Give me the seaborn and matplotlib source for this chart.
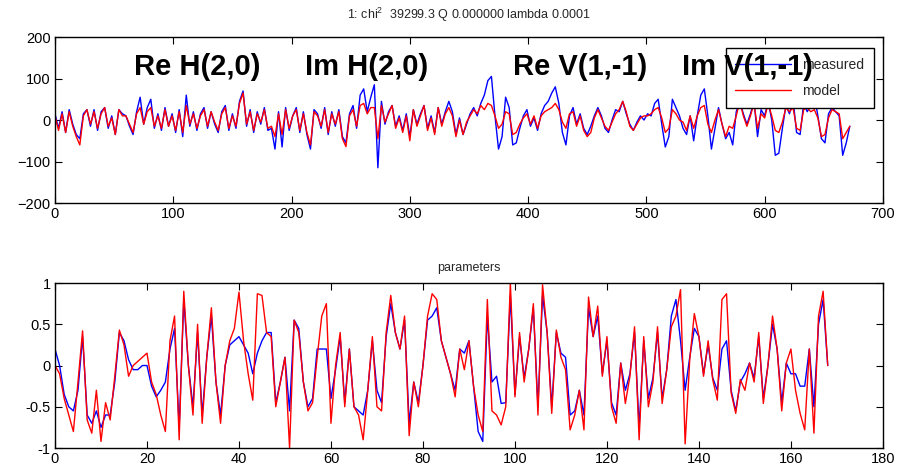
import numpy as np
import pandas as pd
import matplotlib
matplotlib.use("Agg")
import matplotlib.pyplot as plt
import seaborn as sns

# ---------------- data ----------------
top_step = 3  # sample spacing of the top trace values
top_measured = [15, -20, 20, -30, 25, -10, -35, -45, 15, 25, -15, 25, -25, 20, 30, -20, 10, -35, 25, 15,
                10, -15, -35, 20, 55, -10, 30, 50, -20, 15,
                -25, 30, -15, 15, -30, 25, -40, 60, -15, 20, -25, 15, 30, -20, 20, -10, -30, 20, 35, -25,
                15, -20, 45, 70, -15, 25, -30, 20, -10, 30,
                -25, -20, -70, 20, -65, 30, -25, 10, 30, -30, 20, -35, -70, 25, 15, -20, 30, -35, 20, -15,
                25, -40, -55, 15, 35, -20, 60, 75, 20, 55,
                85, -115, 45, -10, 20, 35, -15, 10, -25, 15, -40, 25, -10, 15, 35, -20, 10, -30, 30, -10,
                20, 45, 20, -35, 5, -35, -10, 15, 30, 10,
                40, 60, 95, 105, 10, -70, -40, 55, 30, -60,
                -55, -20, 10, 25, -15, 5, -25, 15, 35, 45, 65, 80, 40, -30, -60, 10, 30, -10, 15, -20,
                -35, -15, 10, 30, 10, -20, -30, 0, 25, 20, 45, 15, -10, -25, -5, 10, 0, 15, 10, 40,
                50, -10, -65, -40, 50, 30, 10, -20, -35, 10,
                -50, 10, 60, 75, 10, -70, -20, 30, -10, -45, -30, -60, 20, 45, 15, -10, 15, 45, -40, 25,
                10, 45, 0, -85, -80, -20, 35, 15, 50, -30, -35, 40, 20, 35, 60, 10, -45, -55, 15, 30,
                20, 10, -85, -55, -15]
top_model = [10, -25, 15, -30, 20, -15, -40, -60, 10, 25, -10, 20, -20, 15, 30, -15, 5, -35, 25, 10,
             10, -10, -30, 15, 30, -10, 20, 30, -15, 10,
             -20, 25, -15, 10, -25, 20, -30, 35, -10, 15, -20, 10, 25, -15, 20, -5, -25, 15, 30, -20,
             10, -15, 40, 65, -10, 20, -25, 15, -5, 25,
             -20, -15, -40, 15, -35, 25, -20, 10, 25, -25, 15, -30, -60, 20, 10, -15, 25, -30, 15, -10,
             20, -45, -64, 10, 25, -15, 35, 40, 15, 30,
             30, -45, 35, -5, 15, 35, -20, 5, -30, 10, -50, 25, -15, 10, 35, -25, 5, -35, 30, -15,
             15, 30, 10, -40, 0, -35, -5, 10, 25, 15,
             35, 25, 40, 35, 10, -20, -10, 20, 15, -35,
             -30, -10, 5, 15, -10, 10, -20, 10, 20, 25, 30, 40, 25, -5, -20, 15, 20, -15, 10, -25,
             -40, -30, 5, 25, 5, -15, -25, -5, 15, 25, 45, 20, -15, -25, -10, 5, 10, 10, 15, 25,
             30, 5, -30, -20, 25, 15, 0, -5, -25, 10,
             -20, 10, 30, 35, -10, -30, 0, 25, -10, -40, -15, -20, 10, 45, 10, -15, 10, 40, -20, 15,
             5, 40, 10, -25, -30, -5, 30, 20, 30, -20, -25, 25, 30, 20, 25, 5, -40, -35, 5, 25,
             20, 15, -45, -30, -15]

param_model = [0.0, -0.1, -0.4, -0.6, -0.8, -0.2, 0.42, -0.66, -0.82, -0.3,
               -0.92, -0.45, -0.66, -0.13, 0.43, 0.25, -0.13, 0.0, 0.05, 0.1,
               0.15, -0.2, -0.35, -0.6, -0.8, 0.3, 0.6, -0.9, 0.9, 0.0,
               -0.6, 0.5, -0.7, 0.1, 0.7, -0.2, -0.7, 0.0, 0.3, 0.45,
               0.89, 0.3, -0.1, -0.42, 0.87, 0.85, 0.4, 0.35, -0.5, -0.2,
               0.1, -1.0, 0.55, 0.4, -0.2, -0.55, -0.45, 0.1, 0.6, 0.75,
               -0.7, 0.0, 0.4, -0.5, 0.2, -0.5, -0.6, -0.9, -0.3, 0.35,
               -0.5, -0.55, 0.4, 0.85, 0.4, 0.2, 0.6, -0.85, -0.2, -0.5,
               0.0, 0.6, 0.87, 0.8, 0.3, 0.1, -0.1, -0.38, 0.2, -0.05,
               0.3, -0.25, -0.6, -0.8, 0.8, -0.55, -0.6, -0.72, -0.5, 1.0,
               -0.38, 0.4, -0.2, 0.2, 0.75, -0.6, 0.98, 0.4, -0.58, 0.43,
               0.1, -0.05, -0.78, -0.6, -0.3, -0.78, 0.83, 0.35, 0.72, -0.13,
               0.35, -0.5, -0.7, 0.03, -0.46, -0.13, 0.47, -0.9, 0.35, -0.5,
               -0.2, 0.47, -0.46, -0.05, 0.47, 0.6, 0.92, -0.95, 0.07, 0.63,
               0.35, -0.13, 0.3, -0.17, -0.42, 0.8, 0.87, -0.33, -0.58, -0.17,
               -0.3, 0.03, -0.2, 0.4, -0.46, 0.0, 0.6, 0.2, -0.55, 0.03,
               0.2, -0.3, -0.58, -0.78, 0.2, -0.82, 0.6, 0.9, 0.0]
param_measured = [0.2, 0.0, -0.35, -0.5, -0.55, -0.3, 0.35, -0.6, -0.7, -0.55,
                  -0.75, -0.6, -0.6, -0.2, 0.4, 0.3, 0.07, -0.05, -0.05, 0.0,
                  0.0, -0.25, -0.38, -0.3, -0.2, 0.2, 0.45, -0.75, 0.8, 0.0,
                  -0.5, 0.4, -0.6, 0.1, 0.6, -0.2, -0.6, 0.0, 0.25, 0.3,
                  0.35, 0.25, 0.15, -0.1, 0.15, 0.3, 0.4, 0.4, -0.45, -0.2,
                  0.1, -0.55, 0.55, 0.45, -0.2, -0.5, -0.4, 0.2, 0.2, 0.2,
                  -0.4, -0.05, 0.35, -0.45, 0.2, -0.5, -0.55, -0.6, -0.3, 0.3,
                  -0.3, -0.45, 0.35, 0.75, 0.4, 0.2, 0.55, -0.7, -0.2, -0.45,
                  0.0, 0.55, 0.6, 0.7, 0.3, 0.1, -0.1, -0.3, 0.2, 0.15,
                  0.3, -0.25, -0.8, -0.92, 0.6, -0.2, -0.13, -0.46, -0.45, 0.85,
                  -0.35, 0.35, -0.15, 0.2, 0.7, -0.5, 0.85, 0.4, -0.5, 0.4,
                  0.15, 0.1, -0.6, -0.55, -0.3, -0.6, 0.7, 0.35, 0.6, -0.1,
                  0.3, -0.45, -0.6, 0.03, -0.3, -0.1, 0.4, -0.75, 0.3, -0.4,
                  -0.15, 0.4, -0.4, -0.05, 0.6, 0.8, 0.3, -0.3, 0.1, 0.45,
                  0.35, -0.1, 0.25, -0.15, -0.3, 0.2, 0.3, -0.3, -0.55, -0.2,
                  -0.1, 0.03, -0.15, 0.35, -0.4, 0.0, 0.5, 0.2, -0.45, 0.03,
                  -0.1, -0.1, -0.25, -0.25, 0.2, -0.5, 0.5, 0.8, 0.0]

top_title = "1: chi$^{2}$  39299.3 Q 0.000000 lambda 0.0001"
bottom_title = "parameters"
labels = ["Re H(2,0)", "Im H(2,0)", "Re V(1,-1)", "Im V(1,-1)"]
label_x = [67, 211, 387, 530]
series_names = ["measured", "model"]

# ---------------- figure ----------------
sns.set_theme(style="white")
plt.rcParams["font.family"] = ["Liberation Sans", "DejaVu Sans"]
plt.rcParams["mathtext.fontset"] = "custom"
plt.rcParams["mathtext.rm"] = "Liberation Sans"

fig = plt.figure(figsize=(8.97, 4.76), dpi=100, facecolor="white")
ax1 = fig.add_axes([0.0613, 0.5735, 0.923, 0.3487])
ax2 = fig.add_axes([0.0613, 0.0588, 0.923, 0.3466])

t_meas = np.arange(len(top_measured)) * top_step
t_mod = np.arange(len(top_model)) * top_step
sns.lineplot(x=t_meas, y=top_measured, ax=ax1, color=(0, 0, 1), lw=1.0,
             label=series_names[0], estimator=None, sort=False)
sns.lineplot(x=t_mod, y=top_model, ax=ax1, color=(1, 0, 0), lw=1.0,
             label=series_names[1], estimator=None, sort=False)

u_meas = np.arange(len(param_measured))
u_mod = np.arange(len(param_model))
sns.lineplot(x=u_meas, y=param_measured, ax=ax2, color=(0, 0, 1), lw=1.0,
             estimator=None, sort=False, legend=False)
sns.lineplot(x=u_mod, y=param_model, ax=ax2, color=(1, 0, 0), lw=1.0,
             estimator=None, sort=False, legend=False)

for ax in (ax1, ax2):
    for s in ax.spines.values():
        s.set_color("black")
        s.set_linewidth(1.0)
        s.set_visible(True)
    ax.tick_params(direction="in", top=True, right=True, length=5, width=0.8,
                   labelsize=10.5, colors="black", pad=3,
                   bottom=True, left=True)
    ax.grid(False)
    ax.set_facecolor("white")

ax1.set_xlim(0, 700)
ax1.set_ylim(-200, 200)
ax1.set_xticks(np.arange(0, 701, 100))
ax1.set_yticks([-200, -100, 0, 100, 200])
ax1.set_title(top_title, fontsize=9, pad=13)

ax2.set_xlim(0, 180)
ax2.set_ylim(-1, 1)
ax2.set_xticks(np.arange(0, 181, 20))
ax2.set_yticks([-1, -0.5, 0, 0.5, 1])
ax2.set_yticklabels(["-1", "-0.5", "0", "0.5", "1"])
ax2.set_title(bottom_title, fontsize=9, pad=9)

leg = ax1.legend(loc="upper right", bbox_to_anchor=(0.989, 0.934), fontsize=10,
                 handlelength=4.0, labelspacing=0.9, borderpad=0.7, borderaxespad=0,
                 frameon=True, fancybox=False, framealpha=1, edgecolor="black")
leg.get_frame().set_linewidth(1.0)

for xp, txt in zip(label_x, labels):
    ax1.text(xp, 108, txt, fontsize=21, fontweight="bold", color="black",
             va="baseline", ha="left", zorder=10)

fig.savefig("out.png", dpi=100, facecolor="white")
